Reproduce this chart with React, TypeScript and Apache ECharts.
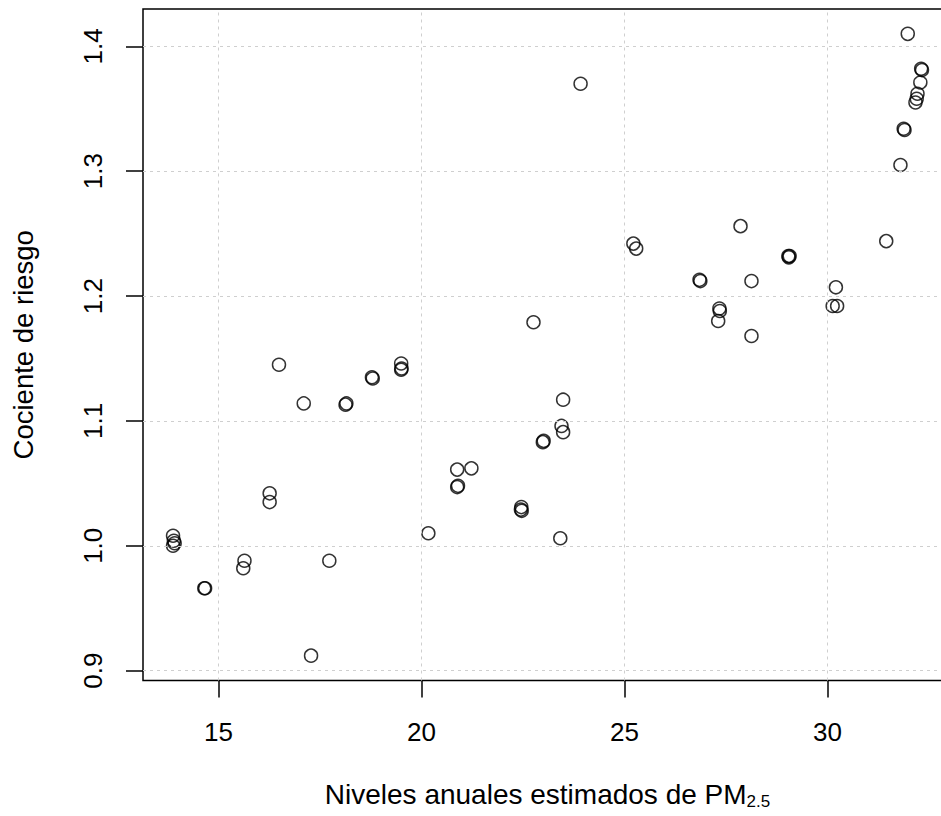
import React, { useEffect, useRef } from "react";
import * as echarts from "echarts";

// Niveles anuales estimados de PM2.5 (x) and cociente de riesgo (y)
const pm25: number[] = [
  13.88, 13.9, 13.88, 13.92, 14.65, 14.67, 15.64, 15.61, 16.26, 16.26,
  16.49, 17.1, 18.13, 18.15, 18.78, 18.8, 19.5, 19.5, 19.51, 17.73,
  17.28, 20.17, 20.88, 21.23, 20.88, 20.9, 22.46, 22.47, 22.45, 22.99,
  23.01, 23.49, 23.45, 23.49, 23.42, 22.76, 23.92, 25.22, 25.29, 27.86,
  29.04, 29.07, 29.05, 26.85, 26.87, 28.13, 27.34, 27.35, 27.31, 28.13,
  31.45, 30.21, 30.13, 30.24, 31.98, 32.31, 32.33, 32.29, 32.22, 32.2,
  32.17, 31.88, 31.9, 31.8,
];
const riskRatio: number[] = [
  1.008, 1.004, 1.0, 1.002, 0.966, 0.966, 0.988, 0.982, 1.042, 1.035,
  1.145, 1.114, 1.113, 1.114, 1.135, 1.134, 1.146, 1.141, 1.142, 0.988,
  0.912, 1.01, 1.061, 1.062, 1.047, 1.048, 1.031, 1.028, 1.029, 1.083,
  1.084, 1.117, 1.096, 1.091, 1.006, 1.179, 1.37, 1.242, 1.238, 1.256,
  1.232, 1.232, 1.231, 1.213, 1.212, 1.212, 1.19, 1.188, 1.18, 1.168,
  1.244, 1.207, 1.192, 1.192, 1.41, 1.382, 1.381, 1.371, 1.362, 1.358,
  1.355, 1.334, 1.333, 1.305,
];

const xTicks: number[] = [15, 20, 25, 30];
const yTicks: number[] = [0.9, 1.0, 1.1, 1.2, 1.3, 1.4];

const xTitle = "Niveles anuales estimados de PM";
const xTitleSub = "2.5";
const yTitle = "Cociente de riesgo";

const FONT = '"Liberation Sans", Arial, Helvetica, sans-serif';

export default function App() {
  const ref = useRef<HTMLDivElement>(null);

  useEffect(() => {
    if (!ref.current) return;
    const chart = echarts.init(ref.current, undefined, { renderer: "svg" });
    const points = pm25.map((x, i) => [x, riskRatio[i]]);
    const gridLine = {
      color: "#cfcfcf",
      width: 1,
      type: [3, 4] as number[],
    };
    chart.setOption({
      animation: false,
      backgroundColor: "#ffffff",
      grid: {
        left: 143,
        top: 9,
        width: 809,
        height: 673,
        show: true,
        borderColor: "#000000",
        borderWidth: 1.5,
        backgroundColor: "transparent",
      },
      xAxis: {
        type: "value",
        min: 13.14,
        max: 33.07,
        axisLine: { show: false },
        splitLine: { show: false },
        axisTick: {
          show: true,
          length: 17,
          lineStyle: { color: "#000", width: 1.5 },
          customValues: xTicks,
        },
        axisLabel: {
          customValues: xTicks,
          margin: 38,
          fontSize: 26,
          fontFamily: FONT,
          color: "#000",
          formatter: (v: number) => String(v),
        },
        name: `{m|${xTitle}}{s|${xTitleSub}}`,
        nameLocation: "middle",
        nameGap: 101,
        nameTextStyle: {
          fontFamily: FONT,
          color: "#000",
          rich: {
            m: { fontSize: 28, fontFamily: FONT, color: "#000", lineHeight: 28, padding: [0, 0, 3, 0] },
            s: { fontSize: 17, fontFamily: FONT, color: "#000", lineHeight: 17, verticalAlign: "bottom" },
          },
        },
      },
      yAxis: {
        type: "value",
        min: 0.8921,
        max: 1.4299,
        axisLine: { show: false },
        splitLine: { show: false },
        axisTick: {
          show: true,
          length: 17,
          lineStyle: { color: "#000", width: 1.5 },
          customValues: yTicks,
        },
        axisLabel: {
          customValues: yTicks,
          rotate: 90,
          margin: 37,
          fontSize: 26,
          fontFamily: FONT,
          color: "#000",
          formatter: (v: number) => v.toFixed(1),
        },
        name: yTitle,
        nameLocation: "middle",
        nameGap: 106,
        nameTextStyle: { fontSize: 27.5, fontFamily: FONT, color: "#000" },
      },
      series: [
        {
          type: "scatter",
          data: points,
          symbol: "circle",
          symbolSize: 13,
          itemStyle: { color: "rgba(0,0,0,0)", borderColor: "#000", borderWidth: 1.5 },
          emphasis: { disabled: true },
          markLine: {
            silent: true,
            symbol: "none",
            label: { show: false },
            lineStyle: gridLine,
            data: [
              ...xTicks.map((v) => ({ xAxis: v })),
              ...yTicks.map((v) => ({ yAxis: v })),
            ],
          },
        },
      ],
    });
    return () => chart.dispose();
  }, []);

  return (
    <div
      style={{
        position: "fixed",
        left: 0,
        top: 0,
        width: 941,
        height: 816,
        overflow: "hidden",
        background: "#fff",
      }}
    >
      <div ref={ref} style={{ width: 990, height: 816 }} />
    </div>
  );
}
